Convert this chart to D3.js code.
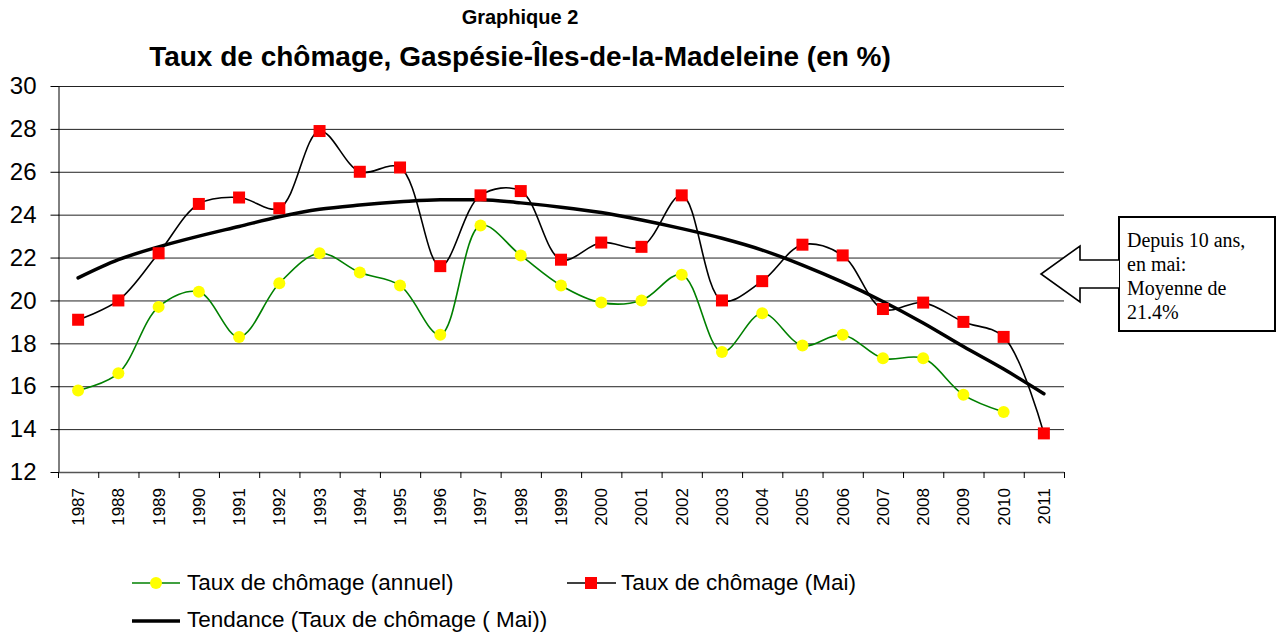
<!DOCTYPE html>
<html>
<head>
<meta charset="utf-8">
<script src="https://cdn.jsdelivr.net/npm/d3@7"></script>
<style>
  body { margin: 0; background: #fff; }
  svg { display: block; font-family: Arial, "Liberation Sans", sans-serif; }
</style>
</head>
<body>
<div id="container"></div>
<script>
// data
var years = ['1987','1988','1989','1990','1991','1992','1993','1994','1995','1996','1997','1998',
             '1999','2000','2001','2002','2003','2004','2005','2006','2007','2008','2009','2010','2011'];
var annuel = [15.8, 16.6, 19.7, 20.4, 18.3, 20.8, 22.2, 21.3, 20.7, 18.4, 23.5, 22.1,
              20.7, 19.9, 20.0, 21.2, 17.6, 19.4, 17.9, 18.4, 17.3, 17.3, 15.6, 14.8, null];
var mai = [19.1, 20.0, 22.2, 24.5, 24.8, 24.3, 27.9, 26.0, 26.2, 21.6, 24.9, 25.1,
           21.9, 22.7, 22.5, 24.9, 20.0, 20.9, 22.6, 22.1, 19.6, 19.9, 19.0, 18.3, 13.8];
var tendance = [21.05, 21.9, 22.5, 23.0, 23.45, 23.9, 24.25, 24.45, 24.6, 24.7, 24.7, 24.55,
                24.35, 24.1, 23.75, 23.35, 22.9, 22.35, 21.65, 20.85, 19.95, 18.95, 17.85, 16.8, 15.65];
var yTicks = [12, 14, 16, 18, 20, 22, 24, 26, 28, 30];
var legendLabels = ['Taux de chômage (annuel)', 'Taux de chômage (Mai)', 'Tendance (Taux de chômage ( Mai))'];
var calloutLines = ['Depuis 10 ans,', 'en mai:', 'Moyenne de', '21.4%'];

var w = 1276, h = 634;
var plot = {left: 58, right: 1064, top: 86, bottom: 472};

var svg = d3.select('#container')
            .append('svg')
            .attr('width', w)
            .attr('height', h);

var x = d3.scaleBand().domain(years).range([plot.left, plot.right]);
var y = d3.scaleLinear().domain([12, 30]).range([plot.bottom, plot.top]);
var cx = function(d) { return x(d) + x.bandwidth() / 2; };

// titles
svg.append('text')
   .attr('x', 520).attr('y', 24)
   .attr('text-anchor', 'middle')
   .style('font-weight', 'bold').style('font-size', '20px')
   .text('Graphique 2');
svg.append('text')
   .attr('x', 520).attr('y', 66)
   .attr('text-anchor', 'middle')
   .style('font-weight', 'bold').style('font-size', '28px')
   .text('Taux de chômage, Gaspésie-Îles-de-la-Madeleine (en %)');

// gridlines
svg.append('g')
   .selectAll('line')
   .data(yTicks.filter(function(d) { return d > 12; }))
   .enter().append('line')
   .attr('x1', plot.left).attr('x2', plot.right)
   .attr('y1', function(d) { return y(d) + 0.5; })
   .attr('y2', function(d) { return y(d) + 0.5; })
   .attr('stroke', '#222').attr('stroke-width', 1);

// y axis
var yAxis = svg.append('g')
   .attr('transform', 'translate(' + (plot.left + 0.5) + ',0)')
   .call(d3.axisLeft(y).tickValues(yTicks).tickSize(8).tickSizeOuter(0).tickPadding(14));
yAxis.selectAll('text').style('font-size', '24px').attr('fill', '#000')
     .style('font-family', 'Arial, "Liberation Sans", sans-serif');
yAxis.selectAll('line').attr('stroke', '#000');
yAxis.select('.domain').attr('stroke', '#000');

// x axis
var xAxis = svg.append('g');
xAxis.append('line')
     .attr('x1', plot.left).attr('x2', plot.right)
     .attr('y1', plot.bottom + 0.5).attr('y2', plot.bottom + 0.5)
     .attr('stroke', '#555').attr('stroke-width', 1.5);
xAxis.selectAll('line.tick')
     .data(years.concat(['end']))
     .enter().append('line')
     .attr('class', 'tick')
     .attr('x1', function(d) { return (d === 'end' ? plot.right : x(d)) + 0.5; })
     .attr('x2', function(d) { return (d === 'end' ? plot.right : x(d)) + 0.5; })
     .attr('y1', plot.bottom).attr('y2', plot.bottom + 6)
     .attr('stroke', '#000');
xAxis.selectAll('text')
     .data(years)
     .enter().append('text')
     .attr('transform', function(d) { return 'translate(' + cx(d) + ',' + (plot.bottom + 16) + ') rotate(-90)'; })
     .attr('text-anchor', 'end')
     .attr('dy', '0.35em')
     .style('font-size', '17px')
     .text(function(d) { return d; });

// lines
var smooth = d3.line()
    .defined(function(d) { return d.v !== null; })
    .x(function(d) { return cx(d.year); })
    .y(function(d) { return y(d.v); })
    .curve(d3.curveCatmullRom.alpha(0.5));

var annuelPts = years.map(function(yr, i) { return {year: yr, v: annuel[i]}; });
var maiPts = years.map(function(yr, i) { return {year: yr, v: mai[i]}; });
var tendPts = years.map(function(yr, i) { return {year: yr, v: tendance[i]}; });

svg.append('path')
   .attr('d', smooth(annuelPts))
   .attr('fill', 'none').attr('stroke', '#008000').attr('stroke-width', 1.6);
svg.append('path')
   .attr('d', smooth(maiPts))
   .attr('fill', 'none').attr('stroke', '#000').attr('stroke-width', 1.6);
svg.append('path')
   .attr('d', d3.line()
       .x(function(d) { return cx(d.year); })
       .y(function(d) { return y(d.v); })
       .curve(d3.curveMonotoneX)(tendPts))
   .attr('fill', 'none').attr('stroke', '#000').attr('stroke-width', 3.5)
   .attr('stroke-linecap', 'round');

// markers
svg.append('g')
   .selectAll('circle')
   .data(annuelPts.filter(function(d) { return d.v !== null; }))
   .enter().append('circle')
   .attr('cx', function(d) { return cx(d.year); })
   .attr('cy', function(d) { return y(d.v); })
   .attr('r', 6)
   .attr('fill', '#ffff00');
svg.append('g')
   .selectAll('rect')
   .data(maiPts)
   .enter().append('rect')
   .attr('x', function(d) { return cx(d.year) - 6; })
   .attr('y', function(d) { return y(d.v) - 6; })
   .attr('width', 12).attr('height', 12)
   .attr('fill', '#ff0000');

// legend
var leg = svg.append('g');
// annuel
leg.append('line').attr('x1', 132).attr('x2', 180).attr('y1', 583).attr('y2', 583)
   .attr('stroke', '#008000').attr('stroke-width', 1.6);
leg.append('circle').attr('cx', 156).attr('cy', 583).attr('r', 6).attr('fill', '#ffff00');
leg.append('text').attr('x', 187).attr('y', 590).style('font-size', '22.5px').text(legendLabels[0]);
// mai
leg.append('line').attr('x1', 567).attr('x2', 616).attr('y1', 583).attr('y2', 583)
   .attr('stroke', '#000').attr('stroke-width', 1.6);
leg.append('rect').attr('x', 585).attr('y', 577).attr('width', 12).attr('height', 12).attr('fill', '#ff0000');
leg.append('text').attr('x', 621).attr('y', 590).style('font-size', '22.5px').text(legendLabels[1]);
// tendance
leg.append('line').attr('x1', 132).attr('x2', 180).attr('y1', 621).attr('y2', 621)
   .attr('stroke', '#000').attr('stroke-width', 3.5);
leg.append('text').attr('x', 187).attr('y', 627).style('font-size', '22.5px').text(legendLabels[2]);

// callout arrow + box
var box = {x: 1119, y: 217, w: 156, h: 114};
svg.append('rect')
   .attr('x', box.x).attr('y', box.y).attr('width', box.w).attr('height', box.h)
   .attr('fill', '#fff').attr('stroke', '#000').attr('stroke-width', 2);
var arrow = [[box.x, 260], [1080, 260], [1080, 246], [1041, 274], [1080, 302], [1080, 288], [box.x, 288]];
svg.append('path')
   .attr('d', d3.line()(arrow))
   .attr('fill', '#fff').attr('stroke', '#000').attr('stroke-width', 1.6)
   .attr('stroke-linejoin', 'miter');
svg.append('g')
   .selectAll('text')
   .data(calloutLines)
   .enter().append('text')
   .attr('x', 1127)
   .attr('y', function(d, i) { return 247 + i * 24; })
   .style('font-family', '"Liberation Serif", "Times New Roman", serif')
   .style('font-size', '20px')
   .text(function(d) { return d; });
</script>
</body>
</html>
